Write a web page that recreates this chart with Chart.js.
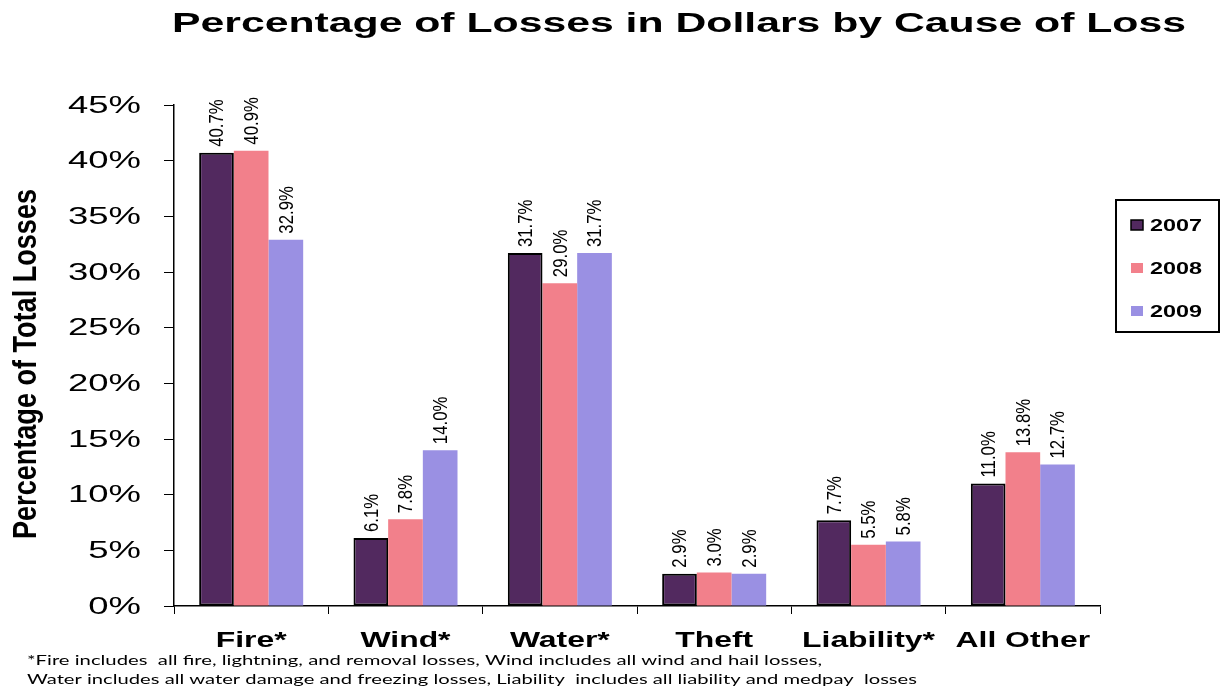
<!DOCTYPE html>
<html>
<head>
<meta charset="utf-8">
<script src="https://cdn.jsdelivr.net/npm/chart.js@4.4.1/dist/chart.umd.min.js"></script>
<style>
  html, body { margin: 0; padding: 0; background: #fff; }
  #wrap { width: 1224px; height: 688px; position: relative; }
</style>
</head>
<body>
<div id="wrap"><canvas id="lossChart"></canvas></div>
<script>
const causes = ["Fire*", "Wind*", "Water*", "Theft", "Liability*", "All Other"];
const years = ["2007", "2008", "2009"];
const loss2007 = [40.7, 6.1, 31.7, 2.9, 7.7, 11.0];
const loss2008 = [40.9, 7.8, 29.0, 3.0, 5.5, 13.8];
const loss2009 = [32.9, 14.0, 31.7, 2.9, 5.8, 12.7];
const yTicks = [0, 5, 10, 15, 20, 25, 30, 35, 40, 45];

const chartTitle = "Percentage of Losses in Dollars by Cause of Loss";
const yTitle = "Percentage of Total Losses";
const footnote = [
  "*Fire includes  all fire, lightning, and removal losses, Wind includes all wind and hail losses,",
  "Water includes all water damage and freezing losses, Liability  includes all liability and medpay  losses"
];

const colors = ["#52295F", "#F2808B", "#9A90E3"];

// draw text squeezed/stretched horizontally so it spans a given width
function fitText(ctx, text, x, y, font, width, align) {
  ctx.save();
  ctx.font = font;
  const w = ctx.measureText(text).width;
  const sx = width / w;
  ctx.translate(x, y);
  ctx.scale(sx, 1);
  ctx.textAlign = align || "left";
  ctx.fillText(text, 0, 0);
  ctx.restore();
}

function scaledText(ctx, text, x, y, font, sx, align) {
  ctx.save();
  ctx.font = font;
  ctx.translate(x, y);
  ctx.scale(sx, 1);
  ctx.textAlign = align || "left";
  ctx.fillText(text, 0, 0);
  ctx.restore();
}

const textLayer = {
  id: "textLayer",
  afterDraw(chart) {
    const ctx = chart.ctx;
    const xs = chart.scales.x;
    const ys = chart.scales.y;
    const sans = "'Liberation Sans', Arial, sans-serif";
    ctx.save();
    ctx.fillStyle = "#000";

    // title
    ctx.textBaseline = "alphabetic";
    fitText(ctx, chartTitle, 679, 32, "bold 28px " + sans, 1014, "center");

    // y tick labels
    ctx.textBaseline = "middle";
    ys.ticks.forEach(t => {
      scaledText(ctx, t.value + "%", 141, ys.getPixelForValue(t.value) + 1, "24px " + sans, 1.52, "right");
    });

    // category labels
    ctx.textBaseline = "alphabetic";
    causes.forEach((c, i) => {
      scaledText(ctx, c, xs.getPixelForValue(i), 647, "bold 22px " + sans, 1.45, "center");
    });

    // y axis title, rotated
    ctx.save();
    ctx.translate(27, 364);
    ctx.rotate(-Math.PI / 2);
    ctx.textBaseline = "middle";
    fitText(ctx, yTitle, 0, 0, "bold 33px " + sans, 350, "center");
    ctx.restore();

    // value labels above bars
    chart.data.datasets.forEach((ds, di) => {
      const meta = chart.getDatasetMeta(di);
      meta.data.forEach((bar, i) => {
        ctx.save();
        ctx.translate(bar.x + 1, bar.y - 6);
        ctx.rotate(-Math.PI / 2);
        ctx.scale(0.8, 1);
        ctx.font = "21px " + sans;
        ctx.textAlign = "left";
        ctx.textBaseline = "middle";
        ctx.fillText(ds.data[i].toFixed(1) + "%", 0, 0);
        ctx.restore();
      });
    });

    // legend box
    ctx.lineWidth = 2;
    ctx.strokeStyle = "#000";
    ctx.strokeRect(1116, 200, 103, 132);
    const rows = [225, 268, 311];
    chart.data.datasets.forEach((ds, di) => {
      const cy = rows[di];
      ctx.fillStyle = ds.backgroundColor;
      ctx.fillRect(1131, cy - 5, 12, 10);
      if (di === 0) {
        ctx.lineWidth = 1.5;
        ctx.strokeRect(1131, cy - 5, 12, 10);
      }
      ctx.fillStyle = "#000";
      ctx.textBaseline = "middle";
      fitText(ctx, ds.label, 1150, cy + 1, "bold 17px " + sans, 52, "left");
    });

    // footnote
    ctx.textBaseline = "alphabetic";
    fitText(ctx, footnote[0], 27, 665, "14px Lato, 'Open Sans', sans-serif", 795, "left");
    fitText(ctx, footnote[1], 27, 684, "14px Lato, 'Open Sans', sans-serif", 890, "left");

    ctx.restore();
  }
};

const series = [loss2007, loss2008, loss2009];

new Chart(document.getElementById("lossChart"), {
  type: "bar",
  data: {
    labels: causes,
    datasets: years.map((yr, i) => ({
      label: yr,
      data: series[i],
      backgroundColor: colors[i],
      borderColor: "#000",
      borderWidth: i === 0 ? 2 : 0,
      borderSkipped: false,
      categoryPercentage: 0.674,
      barPercentage: 1.0
    }))
  },
  options: {
    responsive: true,
    maintainAspectRatio: false,
    animation: false,
    layout: { padding: { top: 105, right: 124, left: 0, bottom: 0 } },
    plugins: {
      legend: { display: false },
      title: { display: false },
      tooltip: { enabled: false }
    },
    scales: {
      x: {
        grid: { drawOnChartArea: false, color: "#000", tickLength: 8, offset: true },
        border: { color: "#000", width: 1.5 },
        ticks: { display: false },
        afterFit(scale) { scale.height = 82; }
      },
      y: {
        min: yTicks[0],
        max: yTicks[yTicks.length - 1],
        afterBuildTicks(scale) { scale.ticks = yTicks.map(v => ({ value: v })); },
        grid: { drawOnChartArea: false, color: "#000", tickLength: 10 },
        border: { color: "#000", width: 1.5 },
        ticks: { display: false },
        afterFit(scale) { scale.width = 174; }
      }
    }
  },
  plugins: [textLayer]
});
</script>
</body>
</html>
